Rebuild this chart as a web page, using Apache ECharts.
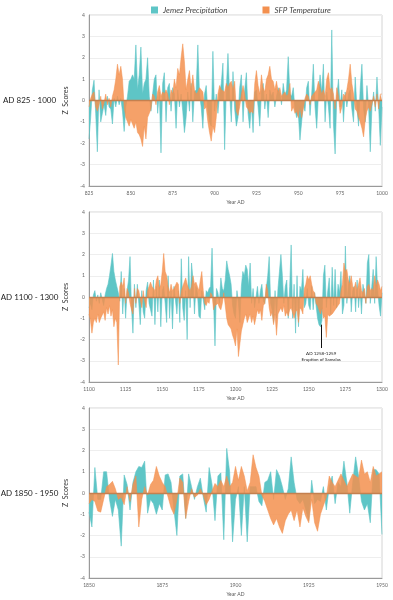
<!DOCTYPE html>
<html><head><meta charset="utf-8">
<script src="https://cdn.jsdelivr.net/npm/echarts@6/dist/echarts.min.js"></script>
<style>html,body{margin:0;padding:0;background:#fff;}#c{width:393px;height:600px;}</style>
</head><body><div id="c"></div>
<script>
// ---- data ----
const seriesNames = ['Jemez Precipitation', 'SFP Temperature'];
const periodLabels = ['AD 825 - 1000', 'AD 1100 - 1300', 'AD 1850 - 1950'];
const startYears = [825, 1100, 1850];
const endYears = [1000, 1300, 1950];
const yTickMin = -4, yTickMax = 4, yTickStep = 1, xTickStep = 25;

const jemez825 = [
-1.8,-0.8,0.5,0.95,-0.6,-2.4,0.5,-1.0,-0.6,-0.2,
-0.7,0.2,-0.3,-0.4,-1.1,0.1,-0.3,0.2,-0.2,0.1,
-0.5,-1.45,-0.3,0.2,0.9,1.0,1.2,1.0,2.6,0.5,
1.2,2.5,0.3,0.8,1.0,2.0,0.2,-0.5,0.3,1.0,
1.2,-0.6,0.4,-2.45,0.8,1.3,-1.0,0.6,0.8,-0.5,
0.6,0.3,-1.3,0.5,-0.3,0.3,-0.5,-1.5,-0.8,0.4,
-0.5,0.8,-1.0,0.4,0.5,2.6,0.3,-0.3,-1.3,0.3,
0.7,-0.5,-1.0,-1.2,2.3,-0.5,0.3,-0.6,0.3,0.8,
1.75,-2.3,0.5,2.2,0.3,-1.0,1.35,-0.4,-1.2,-0.8,
0.6,1.2,-1.0,0.5,1.3,-0.6,-1.3,-0.2,-1.5,0.4,
0.5,-0.3,-1.2,0.4,0.8,-0.4,0.3,-0.8,0.5,0.2,
0.4,-0.3,0.2,0.6,0.3,-0.2,0.8,0.2,0.5,2.05,
0.3,0.2,0.6,-0.4,-0.8,-0.6,-1.85,-1.0,-0.2,-0.5,
0.6,0.9,-0.7,0.3,1.7,-0.3,-1.3,0.2,1.2,0.4,
1.7,-1.0,0.4,-0.3,-1.3,3.3,-1.1,-2.5,0.2,1.0,
-0.3,0.5,-1.0,0.4,-0.3,0.3,0.5,-0.4,-1.0,1.1,
-0.3,-1.2,0.6,1.7,-0.4,-1.0,0.7,-0.3,-2.4,-0.3,
0.4,-0.5,1.1,-0.3,-2.1,-0.3];
const sfp825 = [
-0.3,0.1,0.3,0.4,-0.3,-0.5,-0.2,0.2,-0.4,-0.1,
0.3,-0.2,0.1,-0.3,0.2,0.5,1.0,1.7,1.2,1.6,
1.0,-0.3,-0.8,-0.8,-1.2,-0.9,-1.1,-1.3,-1.0,-1.5,
-1.6,-1.8,-2.15,-1.2,-1.8,-0.8,-0.8,-0.4,0.3,0.2,
-0.2,0.4,0.7,0.2,0.4,0.3,0.5,0.3,-0.2,0.5,
0.3,1.0,0.6,1.5,1.2,2.0,2.65,1.8,0.5,1.0,
1.4,0.5,1.2,0.5,0.3,0.4,0.6,0.5,0.4,-0.4,
-0.3,-1.0,-1.5,-1.9,-1.2,-1.5,-0.8,0.3,0.7,0.5,
0.5,0.4,0.8,0.6,0.8,0.9,0.5,0.9,-0.5,-0.7,
-0.3,0.3,0.7,0.3,-0.3,-0.4,-0.6,-0.5,-0.6,0.8,
1.4,0.7,0.3,1.2,0.6,0.4,1.0,1.2,1.6,1.0,
0.9,0.5,0.9,0.4,0.6,0.2,0.3,0.4,0.2,0.3,
0.8,-0.5,-0.3,-0.6,-0.5,-0.8,-0.3,-0.8,-0.4,0.1,
0.3,0.2,-0.2,0.2,0.3,0.4,0.5,0.9,0.6,0.3,
0.5,0.2,1.0,1.3,0.5,0.6,0.3,-0.4,0.6,0.2,
-0.6,-0.3,0.3,0.2,0.5,1.0,1.7,0.8,0.3,-0.4,
-0.5,-0.8,-1.0,-1.3,-1.7,-0.9,-0.5,-0.3,-0.5,-0.5,
0.2,-0.3,0.3,-0.4,0.3,0.3];

const jemez1100 = [
-0.5,-0.3,-0.6,0.1,0.3,-0.2,0.1,-0.3,0.2,0.2,
-0.4,0.1,0.4,0.6,1.0,1.5,2.05,1.2,0.8,0.5,
0.2,-0.2,1.2,-0.8,0.4,-1.0,0.3,0.8,1.9,-0.5,
-1.7,0.6,-0.5,0.6,-0.3,-1.3,0.3,-0.7,-1.0,0.3,
0.7,-0.3,-0.6,-0.9,0.8,-1.3,0.5,-0.7,0.8,-1.4,
0.3,0.5,-0.3,-1.2,1.0,-1.0,0.3,-1.5,0.5,0.5,
-0.8,0.3,-1.2,1.8,-0.5,-1.1,0.3,-2.0,1.9,-0.5,
1.6,0.8,-0.8,0.5,0.2,-0.9,-1.0,0.3,0.3,-0.6,
0.3,0.2,0.4,0.5,2.3,-0.2,-2.3,0.4,0.2,-0.3,
0.9,0.4,0.3,0.8,1.7,1.3,1.0,0.6,-0.4,-0.8,
-1.0,0.3,-0.3,-1.2,0.5,1.2,1.0,1.5,1.3,0.5,
1.6,-0.3,0.4,-0.5,-0.5,0.5,-0.3,0.3,0.6,-0.2,
-0.3,0.4,1.0,1.9,-0.3,-0.6,-1.2,0.3,-1.0,0.4,
1.2,2.0,1.0,-0.3,0.5,0.8,-1.0,0.5,2.45,-1.0,
0.6,-1.7,1.0,-1.4,0.5,0.3,1.3,-0.5,-0.3,0.4,
-0.4,-0.6,0.5,-0.6,0.2,-0.4,-1.0,-1.3,-1.4,-1.1,
1.0,1.5,-0.5,0.3,0.9,-0.8,1.4,-0.4,1.3,-0.5,
0.6,0.2,1.2,-0.8,-0.4,2.4,-0.3,0.5,1.0,-0.7,
0.3,0.5,-0.7,0.8,-0.5,0.4,-0.8,0.6,0.2,-0.3,
1.6,2.0,-0.3,0.5,1.3,-0.3,1.9,0.4,-0.4,-0.9,
0.2];
const sfp1100 = [
-0.8,-1.1,-1.7,-1.2,-1.0,-1.2,-0.8,-1.2,-1.0,-1.0,
-0.7,-1.1,-0.5,-0.8,-0.4,-0.9,-0.6,-1.4,-1.0,-1.2,
-3.2,0.5,0.7,0.5,0.9,-0.3,0.4,0.2,-0.3,-0.6,
-0.8,0.4,-0.3,0.4,0.3,0.3,-0.5,0.3,-0.2,-0.5,
0.3,0.5,0.7,0.5,0.5,0.3,0.8,1.0,0.4,0.6,
1.2,2.05,1.2,1.0,0.5,0.2,0.6,0.3,0.4,0.4,
0.7,0.6,-0.3,0.3,0.5,0.7,0.9,0.6,0.4,0.3,
0.5,1.0,0.6,0.7,0.5,0.3,0.8,1.2,0.3,-0.3,
-0.4,-0.2,-0.3,0.2,0.1,-0.6,-0.4,-0.4,-0.3,-0.5,
-0.6,-0.3,0.2,-0.4,-1.0,-1.3,-1.4,-1.5,-1.8,-2.0,
-2.3,-1.5,-2.8,-2.2,-1.6,-1.3,-1.0,-0.8,-1.2,-1.0,
-0.8,-1.2,-0.9,-1.3,-1.3,-0.6,-0.8,-0.6,-1.1,-0.4,
-0.3,0.6,0.3,-0.5,-0.9,-0.7,-1.3,-0.8,-1.8,-0.8,
-0.8,-0.5,-0.7,-0.4,-0.9,-0.7,-0.9,-0.6,-0.5,-0.5,
-1.0,-0.7,-0.6,-1.2,-0.5,-0.6,-0.8,0.4,0.6,1.0,
0.8,1.0,0.6,0.3,0.2,-0.3,-0.4,-0.6,-0.8,-0.5,
-1.0,-0.9,-1.9,-0.8,-0.9,-0.9,-0.8,-0.7,-0.6,-0.5,
-0.4,-0.3,0.3,0.6,1.6,1.2,1.3,0.8,0.6,1.0,
0.5,0.4,0.7,0.3,0.6,0.9,0.3,0.2,0.4,-0.3,
0.5,0.6,0.3,0.4,0.3,1.0,0.5,0.8,0.6,0.3,
0.5];

const jemez1850 = [
-0.9,-1.6,1.2,-0.3,-0.3,1.0,1.0,-0.3,-1.1,-0.3,
-0.8,-2.5,0.85,0.4,-0.8,0.5,1.0,1.25,1.2,1.5,
-0.95,-0.3,-0.5,-1.0,-0.5,-0.8,0.85,0.9,0.5,-0.8,
-2.0,0.8,0.9,-1.2,0.9,0.3,-0.3,0.3,0.7,-0.2,
-0.9,1.2,0.4,-1.3,0.8,0.95,-2.2,2.1,1.0,-2.3,
-0.3,0.3,-2.0,0.3,-2.3,0.3,0.3,0.3,-0.4,-0.6,
0.5,0.6,1.0,-0.3,1.1,0.8,0.3,-0.3,0.2,1.7,
0.5,-0.3,-0.5,-0.3,-0.8,-1.3,0.6,-0.5,-0.3,-0.4,
0.3,-0.8,0.3,0.8,-0.5,0.5,0.3,1.5,0.5,-0.95,
0.5,1.7,0.8,-0.4,-0.8,-0.5,-1.4,1.1,1.1,0.9,
-1.95];
const sfp1850 = [
-0.5,-0.3,-0.4,-0.85,-0.9,-0.3,0.3,0.4,0.55,0.2,
-0.3,-0.2,-0.55,0.3,-0.4,0.4,0.8,-1.6,-0.3,0.3,
-0.1,0.4,0.6,1.25,0.8,0.5,0.3,-0.2,-0.7,-1.0,
-0.3,0.7,0.5,-1.2,-0.4,0.2,-0.2,-0.1,0.2,-0.1,
-0.55,-0.3,0.1,0.45,0.3,0.6,0.3,0.8,0.3,0.5,
1.25,0.6,1.25,0.8,0.1,0.5,1.8,1.2,0.8,-0.1,
-0.4,-0.8,-1.2,-1.5,-1.2,-1.6,-1.9,-1.3,-1.0,-0.8,
-1.3,-0.8,-1.6,-0.7,-1.1,-1.4,-0.3,-1.4,-1.8,-1.0,
-0.6,-0.2,0.8,0.5,0.3,0.6,0.9,0.6,0.3,0.6,
0.9,0.8,0.7,1.55,0.9,1.0,0.5,1.25,0.8,0.9,
1.0];

const jemezSets = [jemez825, jemez1100, jemez1850];
const sfpSets = [sfp825, sfp1100, sfp1850];
const annotationYear = 1258.5;
const annotationText = 'AD 1258-1259\nEruption of Samalas';

// ---- styling ----
const TEAL = '#5ec5c6';
const ORANGE = '#f3904f';
const gridTops = [15, 212, 408];
const gridHeights = [171, 170, 170];
const gridLeft = 89, gridWidth = 293;
const FONT = 'Lato';

const chart = echarts.init(document.getElementById('c'), null, {renderer: 'canvas'});

const grids = [], xAxes = [], yAxes = [], series = [], graphics = [];
for (let p = 0; p < 3; p++) {
  grids.push({left: gridLeft, top: gridTops[p], width: gridWidth, height: gridHeights[p],
    show: true, borderColor: '#d4d4d4', borderWidth: 1, backgroundColor: 'transparent'});
  xAxes.push({type: 'value', gridIndex: p, min: startYears[p], max: endYears[p], interval: xTickStep,
    name: 'Year AD', nameLocation: 'middle', nameGap: 14,
    nameTextStyle: {fontSize: 5, color: '#555', fontFamily: FONT},
    axisLine: {show: true, onZero: false, lineStyle: {color: '#9a9a9a', width: 1}},
    axisTick: {show: false}, splitLine: {show: false},
    axisLabel: {fontSize: 5, color: '#666', margin: 5, fontFamily: FONT, formatter: v => String(v)}});
  yAxes.push({type: 'value', gridIndex: p, min: yTickMin, max: yTickMax, interval: yTickStep,
    name: 'Z  Scores', nameLocation: 'middle', nameGap: 11,
    nameTextStyle: {fontSize: 7, color: '#333', fontFamily: FONT},
    axisLine: {show: true, lineStyle: {color: '#9a9a9a', width: 1}},
    axisTick: {show: false},
    splitLine: {show: true, lineStyle: {color: '#eeeeee', width: 1}},
    axisLabel: {fontSize: 5, color: '#666', margin: 4, fontFamily: FONT, formatter: v => String(v)}});
  const jz = jemezSets[p].map((v, i) => [startYears[p] + i, v]);
  const sf = sfpSets[p].map((v, i) => [startYears[p] + i, v]);
  const tealSeries = {name: seriesNames[0], type: 'line', xAxisIndex: p, yAxisIndex: p, data: jz,
    showSymbol: false, symbol: 'none', smooth: false, silent: true, animation: false, z: 2,
    itemStyle: {color: TEAL},
    lineStyle: {color: TEAL, width: 0.6},
    areaStyle: {color: TEAL, opacity: 1}};
  if (p === 1) {
    tealSeries.markLine = {silent: true, animation: false, symbol: ['none', 'arrow'], symbolSize: [0, 5],
      lineStyle: {color: '#111', width: 1, type: 'solid'},
      label: {show: true, position: 'start', formatter: annotationText, fontSize: 4.5, lineHeight: 5.5,
        color: '#222', fontFamily: FONT, distance: 3},
      data: [[{coord: [annotationYear, -2.4]}, {coord: [annotationYear, -1.3]}]]};
  }
  series.push(tealSeries);
  series.push({name: seriesNames[1], type: 'line', xAxisIndex: p, yAxisIndex: p, data: sf,
    showSymbol: false, symbol: 'none', smooth: false, silent: true, animation: false, z: 3,
    itemStyle: {color: ORANGE},
    lineStyle: {color: ORANGE, width: 0.6, opacity: 0.85},
    areaStyle: {color: ORANGE, opacity: 0.85},
    markLine: {silent: true, animation: false, symbol: 'none', label: {show: false},
      lineStyle: {color: '#c4804f', width: 1.3, type: 'solid'},
      data: [{yAxis: 0}]}});
  graphics.push({type: 'text',
    style: {text: periodLabels[p], x: 29.5, y: gridTops[p] + gridHeights[p] / 2,
      align: 'center', verticalAlign: 'middle', textAlign: 'center', textVerticalAlign: 'middle',
      fontSize: 8, fill: '#222', fontFamily: FONT}});
}

chart.setOption({
  animation: false,
  backgroundColor: '#ffffff',
  legend: {top: 1, left: 146, itemWidth: 7, itemHeight: 7, itemGap: 35, icon: 'rect',
    data: seriesNames,
    textStyle: {fontSize: 8, fontStyle: 'italic', color: '#444', fontFamily: FONT}},
  grid: grids, xAxis: xAxes, yAxis: yAxes, series: series,
  graphic: graphics
});
</script>
</body></html>
